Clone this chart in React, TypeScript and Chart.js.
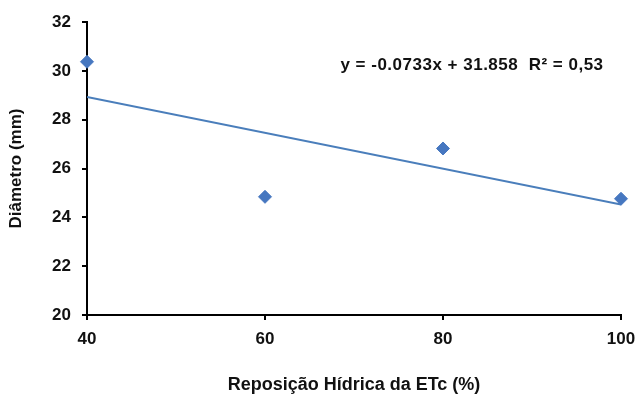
import React, { useEffect, useRef } from "react";
import { Chart, registerables } from "chart.js";

Chart.register(...registerables);

// Water replacement (% of ETc) and measured stem diameter (mm)
const REPOSICAO = [40, 60, 80, 100];
const DIAMETRO = [30.37, 24.84, 26.82, 24.76];

// Linear fit reported for the series
const SLOPE = -0.0733;
const INTERCEPT = 31.858;
const R2 = 0.53;
const TREND_X = [40, 100];

const X_TICKS = [40, 60, 80, 100];
const Y_MIN = 20;
const Y_MAX = 32;
const Y_STEP = 2;

const X_TITLE = "Reposição Hídrica da ETc (%)";
const Y_TITLE = "Diâmetro (mm)";

const FONT = "'Liberation Sans', Arial, sans-serif";
const TEXT = "#111111";
const MARKER = "#4677C0";
const LINE = "#4A7EBB";

const equationText = () =>
  `y = ${SLOPE}x + ${INTERCEPT}  R² = ${R2.toFixed(2).replace(".", ",")}`;

const equationLabel = {
  id: "equationLabel",
  afterDatasetsDraw(chart: Chart) {
    const ctx: any = chart.ctx;
    ctx.save();
    ctx.font = `bold 17px ${FONT}`;
    ctx.letterSpacing = "0.5px";
    ctx.fillStyle = TEXT;
    ctx.textAlign = "center";
    ctx.textBaseline = "alphabetic";
    ctx.fillText(equationText(), 472, 70);
    ctx.restore();
  },
};

export default function App() {
  const canvasRef = useRef<HTMLCanvasElement | null>(null);

  useEffect(() => {
    if (!canvasRef.current) return;
    const chart = new Chart(canvasRef.current, {
      type: "scatter",
      data: {
        datasets: [
          {
            type: "line",
            label: "Tendência",
            data: TREND_X.map((x) => ({ x, y: SLOPE * x + INTERCEPT })),
            borderColor: LINE,
            borderWidth: 2,
            pointRadius: 0,
            fill: false,
            tension: 0,
            order: 2,
          },
          {
            type: "scatter",
            label: "Diâmetro",
            data: REPOSICAO.map((x, i) => ({ x, y: DIAMETRO[i] })),
            pointStyle: "rectRot",
            pointRadius: 6.5,
            pointBackgroundColor: MARKER,
            pointBorderColor: MARKER,
            pointBorderWidth: 1,
            clip: false,
            order: 1,
          },
        ],
      },
      options: {
        animation: false,
        responsive: true,
        maintainAspectRatio: false,
        layout: { padding: { top: 22, right: 17, bottom: 0, left: 0 } },
        plugins: {
          legend: { display: false },
          tooltip: { enabled: false },
        },
        scales: {
          x: {
            type: "linear",
            min: 40,
            max: 100,
            afterBuildTicks: (scale: any) => {
              scale.ticks = X_TICKS.map((value) => ({ value }));
            },
            afterFit: (scale: any) => {
              scale.height = 79;
              scale.paddingLeft = 0;
              scale.paddingRight = 0;
            },
            grid: {
              drawOnChartArea: false,
              color: "#000",
              lineWidth: 2,
              tickLength: 5,
            },
            border: { color: "#000", width: 2 },
            ticks: {
              color: TEXT,
              padding: 9,
              font: { family: FONT, size: 17, weight: "bold" },
            },
            title: {
              display: true,
              text: X_TITLE,
              color: TEXT,
              font: { family: FONT, size: 18, weight: "bold", lineHeight: 1 },
              padding: { top: 0, bottom: 0 },
            },
          },
          y: {
            type: "linear",
            min: Y_MIN,
            max: Y_MAX,
            afterFit: (scale: any) => {
              scale.width = 87;
            },
            grid: {
              drawOnChartArea: false,
              color: "#000",
              lineWidth: 2,
              tickLength: 5,
            },
            border: { color: "#000", width: 2 },
            ticks: {
              stepSize: Y_STEP,
              color: TEXT,
              padding: 11,
              font: { family: FONT, size: 17, weight: "bold" },
            },
            title: {
              display: true,
              text: Y_TITLE,
              color: TEXT,
              font: { family: FONT, size: 17, weight: "bold", lineHeight: 1 },
              padding: { top: 8, bottom: 0 },
            },
          },
        },
      },
      plugins: [equationLabel],
    });
    return () => chart.destroy();
  }, []);

  return (
    <div
      style={{
        position: "fixed",
        left: 0,
        top: 0,
        width: 638,
        height: 394,
        background: "#fff",
      }}
    >
      <canvas ref={canvasRef} />
    </div>
  );
}
